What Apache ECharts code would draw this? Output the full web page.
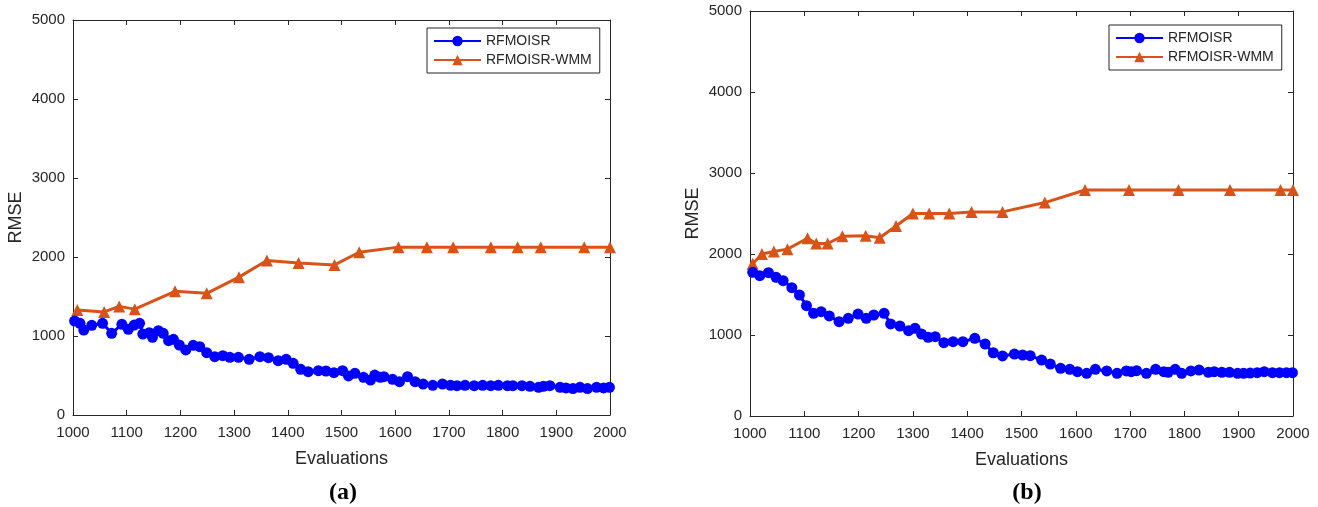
<!DOCTYPE html>
<html>
<head>
<meta charset="utf-8">
<script src="https://cdn.jsdelivr.net/npm/echarts@6/dist/echarts.min.js"></script>
<style>
html,body{margin:0;padding:0;background:#fff;}
#chart{width:1318px;height:507px;}
</style>
</head>
<body>
<div id="chart"></div>
<script>
// ---- data ----
var seriesNames = ['RFMOISR', 'RFMOISR-WMM'];
var xTicks = [1000, 1100, 1200, 1300, 1400, 1500, 1600, 1700, 1800, 1900, 2000];
var yTicks = [0, 1000, 2000, 3000, 4000, 5000];

// Panel (a)
var aBlueX = [1003,1013,1020,1035,1055,1072,1091,1103,1114,1124,1130,1142,1148,1159,1168,1178,1187,1198,1210,1224,1236,1249,1264,1279,1292,1308,1328,1348,1364,1382,1397,1410,1424,1438,1457,1471,1486,1502,1513,1525,1541,1554,1562,1572,1579,1595,1608,1623,1637,1652,1670,1688,1703,1715,1730,1747,1763,1778,1792,1809,1819,1836,1851,1867,1876,1888,1907,1918,1931,1944,1958,1975,1988,1999];
var aBlueY = [1190,1160,1075,1135,1160,1034,1148,1085,1139,1160,1025,1042,984,1067,1034,941,958,886,823,882,865,789,738,751,730,730,705,738,726,687,705,654,578,548,561,557,536,561,494,528,477,443,506,477,485,452,422,485,422,392,376,392,376,371,376,371,376,371,376,371,371,371,363,350,363,371,350,342,334,350,334,350,342,350];
var aOrangeX = [1008,1058,1086,1115,1190,1249,1309,1361,1420,1487,1533,1606,1659,1708,1778,1828,1871,1952,2000];
var aOrangeY = [1330,1305,1375,1340,1565,1540,1745,1955,1925,1900,2060,2125,2125,2125,2125,2125,2125,2125,2125];

// Panel (b)
var bBlueX = [1005,1018,1034,1048,1061,1077,1091,1104,1117,1131,1146,1164,1181,1199,1214,1228,1247,1259,1276,1292,1304,1316,1328,1341,1357,1374,1392,1414,1433,1448,1465,1487,1502,1516,1537,1553,1572,1589,1603,1620,1636,1657,1676,1693,1702,1712,1730,1747,1762,1770,1783,1795,1812,1827,1844,1855,1869,1883,1898,1909,1921,1934,1947,1962,1975,1988,1999];
var bBlueY = [1774,1732,1769,1712,1670,1584,1494,1362,1268,1288,1235,1165,1206,1259,1206,1247,1268,1136,1111,1053,1082,1012,971,979,905,917,917,959,889,781,741,765,753,745,691,642,588,576,547,527,576,556,527,556,547,560,527,576,547,539,576,527,556,568,539,547,539,539,527,527,530,535,547,535,535,535,535];
var bOrangeX = [1005,1022,1044,1069,1106,1122,1143,1170,1213,1239,1269,1300,1330,1367,1408,1465,1543,1617,1698,1789,1884,1977,2000];
var bOrangeY = [1880,2000,2030,2060,2195,2130,2130,2220,2225,2200,2345,2500,2500,2500,2520,2520,2635,2790,2790,2790,2790,2790,2790];

// ---- build ----
function zip(xs, ys){ var o=[]; for(var i=0;i<xs.length;i++) o.push([xs[i], ys[i]]); return o; }
var FONT = '"Liberation Sans", Arial, sans-serif';
var AX = '#262626';
var BLUE = '#0000FF', ORANGE = '#D95319';
function plain(v){ return String(v); }

function xAxisDef(gi, pos, showLabels, name){
  return {
    type:'value', gridIndex:gi, position:pos,
    min:xTicks[0], max:xTicks[xTicks.length-1], interval:xTicks[1]-xTicks[0],
    name: name || '', nameLocation:'middle', nameGap:35,
    nameTextStyle:{fontFamily:FONT, fontSize:18, color:AX},
    axisLine:{show:true, onZero:false, lineStyle:{color:AX, width:1}},
    axisTick:{show:true, inside:true, length:5, lineStyle:{color:AX}},
    axisLabel:{show:showLabels, fontFamily:FONT, fontSize:15, color:AX, margin:10, formatter:plain},
    splitLine:{show:false}
  };
}
function yAxisDef(gi, pos, showLabels, name){
  return {
    type:'value', gridIndex:gi, position:pos,
    min:yTicks[0], max:yTicks[yTicks.length-1], interval:yTicks[1]-yTicks[0],
    name: name || '', nameLocation:'middle', nameGap:48,
    nameTextStyle:{fontFamily:FONT, fontSize:18, color:AX},
    axisLine:{show:true, onZero:false, lineStyle:{color:AX, width:1}},
    axisTick:{show:true, inside:true, length:5, lineStyle:{color:AX}},
    axisLabel:{show:showLabels, fontFamily:FONT, fontSize:15, color:AX, margin:8, formatter:plain},
    splitLine:{show:false}
  };
}
function lineSeries(name, data, xi, yi, color, symbol, size){
  return {
    type:'line', name:name, data:data, xAxisIndex:xi, yAxisIndex:yi,
    symbol:symbol, symbolSize:size, showSymbol:true,
    lineStyle:{color:color, width:3},
    itemStyle:{color:color},
    animation:false
  };
}
function legendDef(left, top){
  return {
    data:seriesNames, orient:'vertical', left:left, top:top,
    itemWidth:47, itemHeight:13, itemGap:5,
    padding:[6,8,6,6],
    borderColor:AX, borderWidth:1, backgroundColor:'#fff',
    textStyle:{fontFamily:FONT, fontSize:14, color:AX},
    selectedMode:false
  };
}

var option = {
  backgroundColor:'#fff',
  animation:false,
  title:[
    {text:'(a)', left:338, top:476, textAlign:'center',
     textStyle:{fontFamily:'"Liberation Serif", "Times New Roman", serif', fontWeight:'bold', fontSize:24, color:'#000'}},
    {text:'(b)', left:1022, top:476, textAlign:'center',
     textStyle:{fontFamily:'"Liberation Serif", "Times New Roman", serif', fontWeight:'bold', fontSize:24, color:'#000'}}
  ],
  legend:[legendDef(427, 28), legendDef(1109, 25)],
  grid:[
    {left:73, top:20, width:537, height:395, containLabel:false},
    {left:750, top:11, width:543, height:405, containLabel:false}
  ],
  xAxis:[
    xAxisDef(0,'bottom',true,'Evaluations'),
    xAxisDef(0,'top',false),
    xAxisDef(1,'bottom',true,'Evaluations'),
    xAxisDef(1,'top',false)
  ],
  yAxis:[
    yAxisDef(0,'left',true,'RMSE'),
    yAxisDef(0,'right',false),
    yAxisDef(1,'left',true,'RMSE'),
    yAxisDef(1,'right',false)
  ],
  series:[
    lineSeries(seriesNames[1], zip(aOrangeX,aOrangeY), 0, 0, ORANGE, 'triangle', 12),
    lineSeries(seriesNames[0], zip(aBlueX,aBlueY), 0, 0, BLUE, 'circle', 11),
    lineSeries(seriesNames[1], zip(bOrangeX,bOrangeY), 2, 2, ORANGE, 'triangle', 12),
    lineSeries(seriesNames[0], zip(bBlueX,bBlueY), 2, 2, BLUE, 'circle', 11)
  ]
};
var chart = echarts.init(document.getElementById('chart'), null, {renderer:'canvas'});
chart.setOption(option);
</script>
</body>
</html>
